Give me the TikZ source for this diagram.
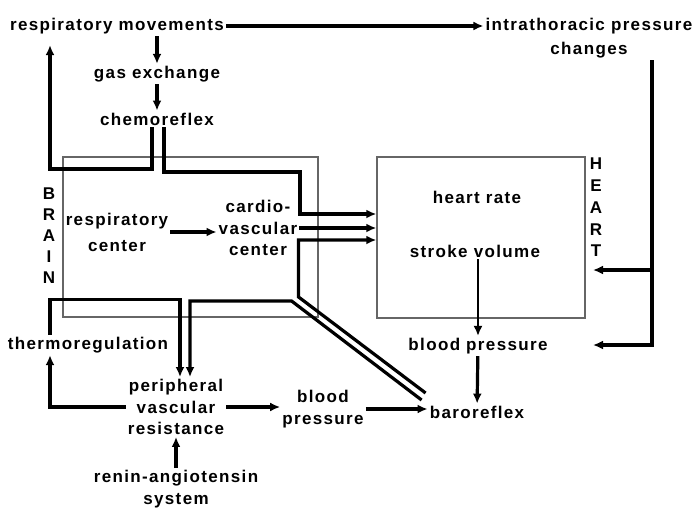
\documentclass[tikz,border=0pt]{standalone}
\usepackage{fontspec}
\setmainfont{Liberation Sans}[LetterSpace=8]
\usetikzlibrary{arrows.meta,calc}

\begin{document}
\begin{tikzpicture}[x=1pt, y=-1pt, >={Latex[length=10pt,width=9pt]},
  every node/.style={font=\fontsize{17}{21.5}\selectfont\bfseries, inner sep=2pt, align=center},
  region/.style={draw=black!60, line width=1.4pt, inner sep=0pt},
  flow/.style={->, line width=3.2pt},
  thinflow/.style={->, line width=1.8pt}]
  \useasboundingbox (0,0) rectangle (694,507);
  % Brain and heart regions
  \node[region, minimum width=255pt, minimum height=160pt] (brainbox) at (190.5,237) {};
  \node[region, minimum width=208pt, minimum height=161pt] (heartbox) at (481,237.5) {};
  \foreach \ch [count=\i] in {B,R,A,I,N}
    \node (bl\i) at (49, 173.1+20.9*\i) {\ch};
  \foreach \ch [count=\i] in {H,E,A,R,T}
    \node (hl\i) at (596, 142.25+21.75*\i) {\ch};
  % Labels
  \node (resp)   at (117,26)  {respiratory movements};
  \node (intra)  at (589,38)  {intrathoracic pressure\\[3pt]changes};
  \node (gas)    at (157,74)  {gas exchange};
  \node (chemo)  at (157,119) {chemoreflex};
  \node (respc)  at (117,232) {respiratory\\[4.5pt]center};
  \node (cardc)  at (258,228) {cardio-\\vascular\\center};
  \node (hr)     at (477,197) {heart rate};
  \node (sv)     at (475,251) {stroke volume};
  \node (bpr)    at (478,346) {blood pressure};
  \node (baro)   at (477,412) {baroreflex};
  \node (bpl)    at (323,409) {blood\\pressure};
  \node (pvr)    at (176,407) {peripheral\\vascular\\resistance};
  \node (thermo) at (88,345)  {thermoregulation};
  \node (renin)  at (176,489) {renin-angiotensin\\system};
  \coordinate (rx)  at (652,0);
  \coordinate (hin) at (593,270);
  \coordinate (bin) at (593,345);
  % Respiratory loop
  \draw[flow] (resp.east) -- (resp.east -| intra.west);
  \draw[flow] (gas.north |- resp.south) -- (gas.north);
  \draw[flow] (gas) -- (chemo);
  \draw[flow] ($(chemo.south)+(-5,0)$) -- ++(0,41.5) -| ($(resp.south)+(-67,9)$);
  \draw[flow] ($(chemo.south)+(7,0)$) -- ++(0,44.5) -- ++(136,0) |- ($(heartbox.west)+(0,-23.5)$);
  % Central outflow
  \draw[flow] (respc.east) -- (respc.east -| cardc.west);
  \draw[flow] (cardc.east) -- (cardc.east -| heartbox.west);
  % Baroreflex double line
  \draw[flow] ($(baro.west)+(-2,-19)$) -- ++(-127,-96) |- ($(heartbox.west)+(0,2.5)$);
  \draw[flow] ($(baro.west)+(-6,-12)$) -- ++(-130,-99) -| ($(pvr.north)+(14,0)$);
  % Periphery
  \draw[flow] ($(thermo.north)+(-38,0)$) -- ++(0,-35.5) -| ($(pvr.north)+(4,0)$);
  \draw[flow] (pvr.west) -| ($(thermo.south)+(-38,0)$);
  \draw[flow] (renin) -- (pvr);
  \draw[flow] (pvr.east) -- (pvr.east -| bpl.west);
  \draw[flow] (bpl.east) -- (bpl.east -| baro.west);
  % Heart side
  \draw[thinflow] (bpr.north |- sv.south) -- (bpr.north);
  \draw[flow] (bpr) -- (baro);
  \draw[flow] (intra.south -| rx) |- (bin);
  \draw[flow] (rx |- hin) -- (hin);
\end{tikzpicture}
\end{document}
